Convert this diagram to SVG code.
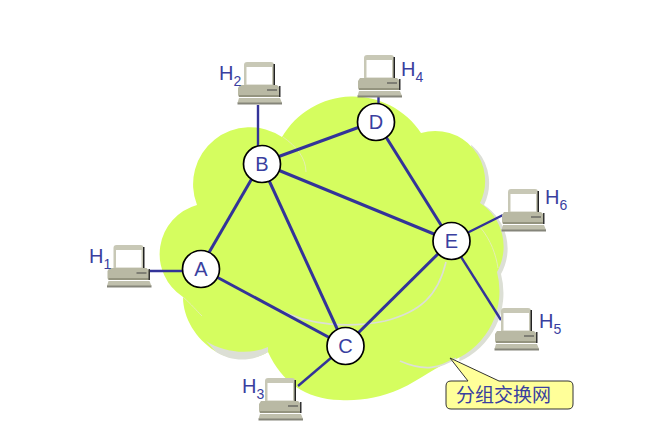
<svg xmlns="http://www.w3.org/2000/svg" width="650" height="421" viewBox="0 0 650 421">
<style>
.lk{stroke:#333399;stroke-width:3;fill:none}
.lk2{stroke:#333399;stroke-width:2.4;fill:none}
.nd{fill:#fff;stroke:#000;stroke-width:1.7}
.t{font-family:"Liberation Sans",Arial,sans-serif;fill:#3a3f9f}
.nl{font-size:20px;text-anchor:middle}
.hl{font-size:20px}
.hs{font-size:14px}
.arc{fill:none;stroke:#dcdfd5;stroke-width:1.6}
.arcw{fill:none;stroke:#e4efb0;stroke-width:1}
</style>
<defs>
<path id="cloud" d="M282 137A82 82 0 0 1 421 133A50 50 0 0 1 480 203A52 52 0 0 1 497 272A75 75 0 0 1 454 360C436 366 422 379 400 389C380 398 360 401 340 400C305 399 282 382 268 352C255 360 232 362 215 351C196 339 183 318 183 297A51 51 0 0 1 197 205A57 57 0 0 1 282 137Z"/>
<clipPath id="sh"><path d="M468 130H520V360L455 364Z"/></clipPath>
<symbol id="pc" viewBox="0 0 45 44" width="45" height="44" overflow="visible">
<path d="M6 3Q6 0 9 0H33Q36 0 36 3V23H6Z" fill="#c8c8b6"/>
<path d="M35.500 2H37V23H35.500Z" fill="#222"/>
<rect x="8.500" y="5" width="25.500" height="17.500" fill="#fff"/>
<path d="M2 23H39L42 26V35H2Q0 35 0 33V26Z" fill="#b9b9a4"/>
<path d="M1 33H42V35H1Z" fill="#94947f"/>
<path d="M41 24H42.500V35H41Z" fill="#333"/>
<rect x="29" y="27.500" width="10" height="1" fill="#444"/>
<path d="M1 36H42L44 41H-0.500Z" fill="#c0c0ad"/>
<path d="M-0.500 40.500H44V42.500H-0.500Z" fill="#85857a"/>
</symbol>
</defs>
<g id="cloud-shape">
<use href="#cloud" x="4" y="2" fill="#dcdfd5" clip-path="url(#sh)"/>
<use href="#cloud" fill="#d5fd5f"/>
<path d="M206 341C224 353 250 355 268 347L268 352C252 362 232 362 216 352Z" fill="#dcdfd5"/>
<path class="arcw" d="M283 137C296 146 306 158 306 172"/>
<path class="arcw" d="M183 297C192 305 196 310 202 316"/>
<path class="arc" d="M280 310C310 326 350 328 385 321C420 312 438 296 446 262"/>
<path class="arcw" d="M480 227C491 240 496 255 498 268"/>
<path class="arc" stroke-width="2" d="M400 361C425 372 440 368 456 358"/>
</g>
<g id="connectors">
<line class="lk" x1="200" y1="268" x2="261" y2="163"/>
<line class="lk" x1="200" y1="268" x2="345" y2="346"/>
<line class="lk" x1="261" y1="163" x2="345" y2="346"/>
<line class="lk" x1="261" y1="163" x2="376" y2="121"/>
<line class="lk" x1="261" y1="163" x2="451" y2="241"/>
<line class="lk" x1="376" y1="121" x2="451" y2="241"/>
<line class="lk" x1="451" y1="241" x2="345" y2="346"/>
<line class="lk2" x1="150" y1="271" x2="200" y2="271"/>
<line class="lk2" x1="258" y1="105" x2="258" y2="163"/>
<line class="lk2" x1="298" y1="386" x2="345" y2="346"/>
<line class="lk2" x1="378.500" y1="97" x2="378.500" y2="121"/>
<line class="lk2" x1="501" y1="320" x2="451" y2="241"/>
<line class="lk2" x1="503" y1="215" x2="451" y2="241"/>
</g>
<g id="A"><circle class="nd" cx="201" cy="269" r="18.500"/><text class="t nl" x="201" y="276">A</text></g>
<g id="B"><circle class="nd" cx="262" cy="164" r="18.500"/><text class="t nl" x="262" y="171">B</text></g>
<g id="C"><circle class="nd" cx="345.500" cy="346" r="18.500"/><text class="t nl" x="345.500" y="353">C</text></g>
<g id="D"><circle class="nd" cx="376" cy="122" r="18.500"/><text class="t nl" x="376" y="129">D</text></g>
<g id="E"><circle class="nd" cx="451.500" cy="241" r="18.500"/><text class="t nl" x="451.500" y="248">E</text></g>
<g id="H1"><use href="#pc" x="107.500" y="245"/><text class="t hl" x="89" y="263">H<tspan class="hs" dy="6">1</tspan></text></g>
<g id="H2"><use href="#pc" x="238" y="62"/><text class="t hl" x="219" y="80">H<tspan class="hs" dy="6">2</tspan></text></g>
<g id="H3"><use href="#pc" x="259" y="378"/><text class="t hl" x="242" y="393">H<tspan class="hs" dy="6">3</tspan></text></g>
<g id="H4"><use href="#pc" x="358" y="55"/><text class="t hl" x="401" y="76">H<tspan class="hs" dy="6">4</tspan></text></g>
<g id="H5"><use href="#pc" x="495" y="308"/><text class="t hl" x="539" y="328">H<tspan class="hs" dy="6">5</tspan></text></g>
<g id="H6"><use href="#pc" x="502" y="189"/><text class="t hl" x="545" y="204">H<tspan class="hs" dy="6">6</tspan></text></g>
<g id="callout">
<path d="M450 358L499 381H568Q573 381 573 386V404Q573 409 568 409H451Q446 409 446 404V386Q446 381 451 381H468Z" fill="#ffff99" stroke="#333" stroke-width="1"/>
<text class="t" x="456" y="402" font-size="19" style="font-family:'Liberation Sans','Noto Sans CJK SC',sans-serif">分组交换网</text>
</g>
</svg>
